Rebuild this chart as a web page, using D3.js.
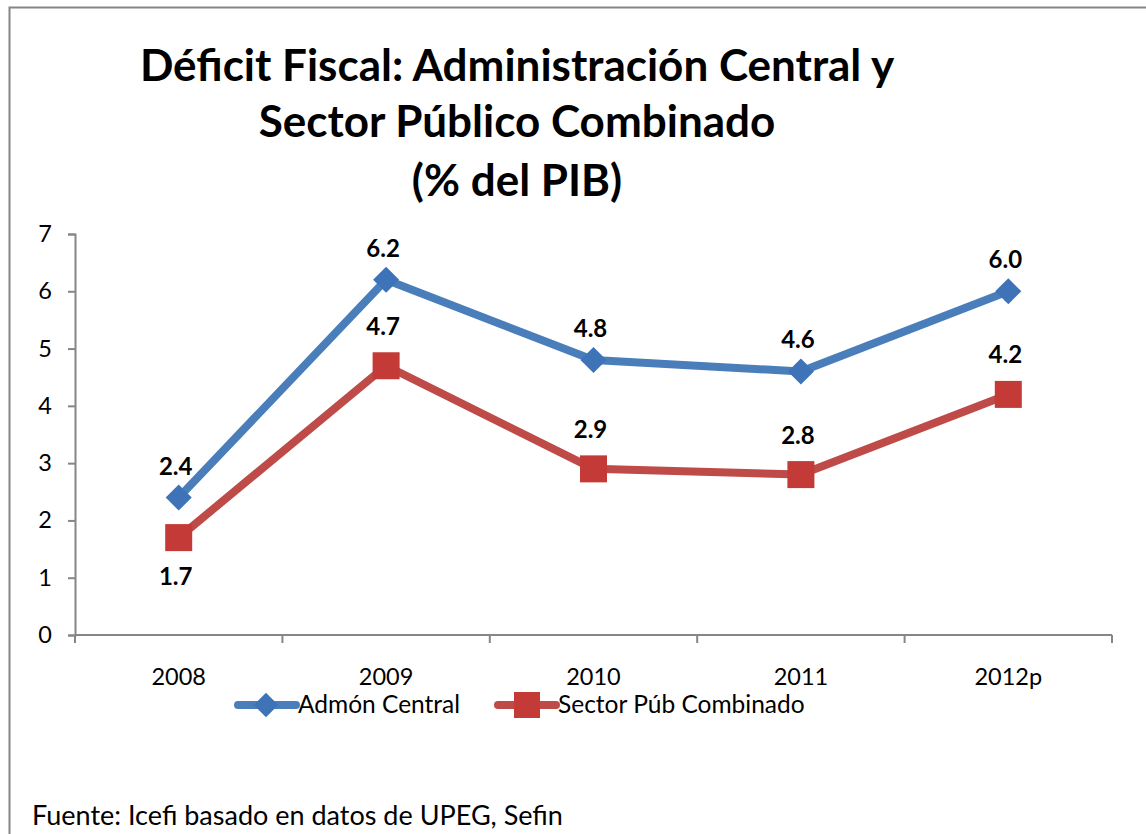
<!DOCTYPE html>
<html><head><meta charset="utf-8">
<script src="https://cdn.jsdelivr.net/npm/d3@7"></script>
<style>body{margin:0;background:#fff}svg{display:block}text{font-family:Lato,"Open Sans",sans-serif}</style>
</head><body><svg id="c" width="1146" height="834"></svg>
<script>
const categories = ["2008","2009","2010","2011","2012p"];
const admonCentral = [2.4, 6.2, 4.8, 4.6, 6.0];
const sectorPub = [1.7, 4.7, 2.9, 2.8, 4.2];
const yTicks = [0,1,2,3,4,5,6,7];
const titleLines = ["Déficit Fiscal: Administración Central y","Sector Público Combinado","(% del PIB)"];
const seriesNames = ["Admón Central","Sector Púb Combinado"];
const source = "Fuente: Icefi basado en datos de UPEG, Sefin";

const svg = d3.select("#c");
svg.append("rect").attr("x",9.5).attr("y",7.5).attr("width",1150).attr("height",900)
  .attr("fill","#fff").attr("stroke","#868686").attr("stroke-width",2);

svg.selectAll(".title").data(titleLines).join("text")
  .attr("x",517).attr("y",(d,i)=>[81,137,196][i]).attr("text-anchor","middle")
  .attr("font-size",44).attr("font-weight","bold").text(d=>d);

const x = d3.scaleBand().domain(categories).range([75,1112]);
const y = d3.scaleLinear().domain([0,7]).range([635,234]);

const yAxis = svg.append("g").attr("transform","translate(75,0)")
  .call(d3.axisLeft(y).tickValues(yTicks).tickSize(7).tickPadding(16).tickFormat(d3.format("d")));
const xAxis = svg.append("g").attr("transform","translate(0,635)")
  .call(d3.axisBottom(x).tickSize(0).tickPadding(33));
const bounds = categories.map(c=>x(c)).concat([x.range()[1]]);
svg.append("g").selectAll("line").data(bounds).join("line")
  .attr("x1",d=>d).attr("x2",d=>d).attr("y1",635).attr("y2",643)
  .attr("stroke","#868686").attr("stroke-width",2);
[yAxis,xAxis].forEach(a=>{
  a.select(".domain").attr("stroke","#868686").attr("stroke-width",2);
  a.selectAll(".tick line").attr("stroke","#868686").attr("stroke-width",2);
  a.selectAll("text").attr("font-size",23.5).attr("fill","#000").attr("font-family","Lato,sans-serif");
});
xAxis.select(".domain").attr("d","M75,0H1112");

const cx = d=>x(d)+x.bandwidth()/2;
const line = d3.line().x((d,i)=>cx(categories[i])).y(d=>y(d));
const blue="#4a7ebb", red="#be4b48";

svg.append("path").datum(admonCentral).attr("d",line).attr("fill","none").attr("stroke",blue)
  .attr("stroke-width",8).attr("stroke-linejoin","round").attr("stroke-linecap","round");
svg.append("path").datum(sectorPub).attr("d",line).attr("fill","none").attr("stroke",red)
  .attr("stroke-width",8).attr("stroke-linejoin","round").attr("stroke-linecap","round");

const diamond = d3.symbol().type(d3.symbolSquare).size(340);
svg.append("g").selectAll("path").data(admonCentral).join("path")
  .attr("d",diamond).attr("fill","#3e73b8")
  .attr("transform",(d,i)=>`translate(${cx(categories[i])},${y(d)}) rotate(45)`);
svg.append("g").selectAll("rect").data(sectorPub).join("rect")
  .attr("x",(d,i)=>cx(categories[i])-13.5).attr("y",d=>y(d)-13.5).attr("width",27).attr("height",27)
  .attr("fill","#c43a36");

svg.append("g").selectAll("text").data(admonCentral).join("text")
  .attr("x",(d,i)=>cx(categories[i])-3).attr("y",d=>y(d)-23).attr("text-anchor","middle")
  .attr("font-size",24).attr("font-weight","bold").text(d=>d.toFixed(1));
svg.append("g").selectAll("text").data(sectorPub).join("text")
  .attr("x",(d,i)=>cx(categories[i])-3).attr("y",(d,i)=>i===0? y(d)+47 : y(d)-31).attr("text-anchor","middle")
  .attr("font-size",24).attr("font-weight","bold").text(d=>d.toFixed(1));

// legend
const leg = svg.append("g");
const lx = [238,498];
seriesNames.forEach((n,i)=>{
  const col = i===0?blue:red;
  leg.append("line").attr("x1",lx[i]).attr("x2",lx[i]+58).attr("y1",705).attr("y2",705)
    .attr("stroke",col).attr("stroke-width",8).attr("stroke-linecap","round");
  if(i===0) leg.append("path").attr("d",d3.symbol().type(d3.symbolSquare).size(300)())
    .attr("transform",`translate(${lx[i]+28},705) rotate(45)`).attr("fill","#3e73b8");
  else leg.append("rect").attr("x",lx[i]+29-13).attr("y",705-13).attr("width",26).attr("height",26).attr("fill","#c43a36");
  leg.append("text").attr("x",lx[i]+60).attr("y",713).attr("font-size",24.5).text(n);
});

svg.append("text").attr("x",32).attr("y",825).attr("font-size",27).text(source);
</script></body></html>
